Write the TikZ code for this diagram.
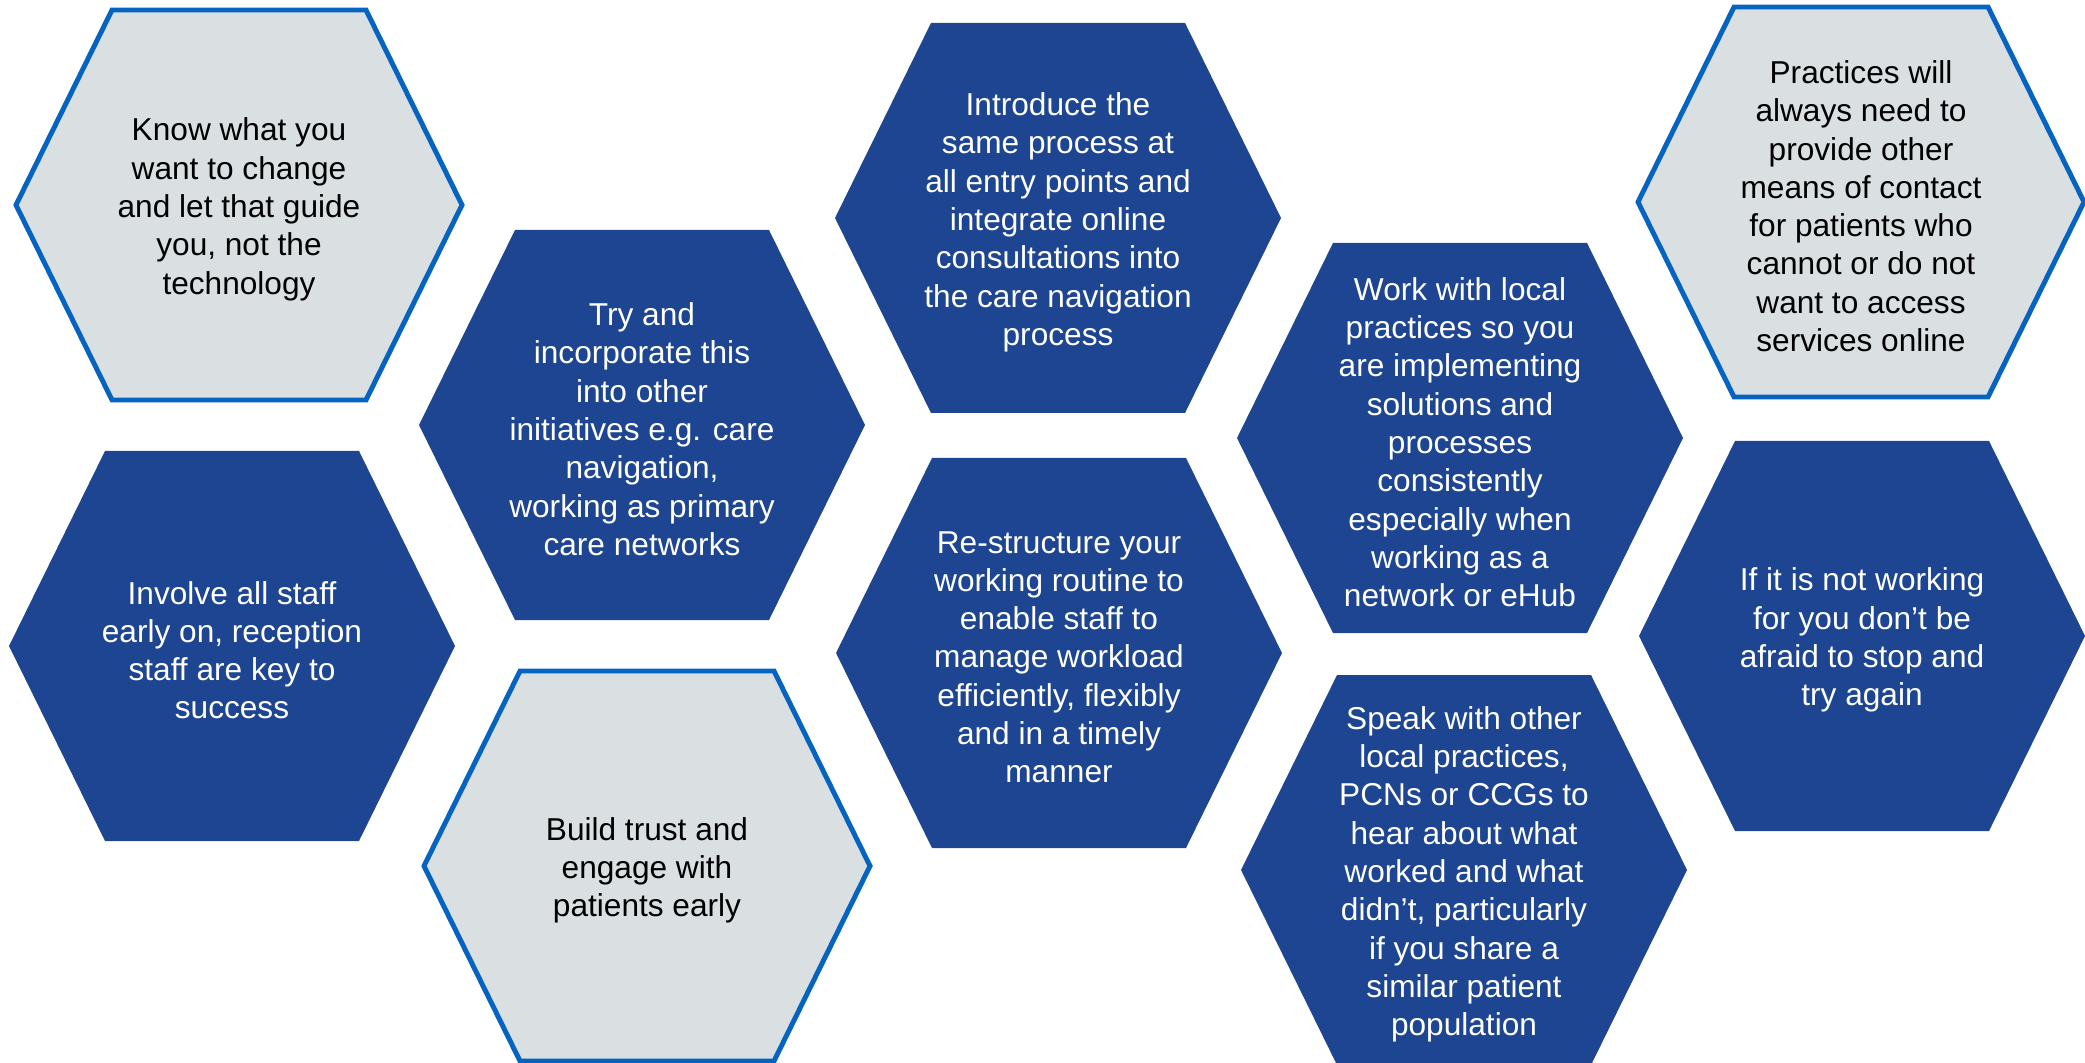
\documentclass[tikz,border=0pt]{standalone}
\usepackage{fontspec}
\setmainfont{Liberation Sans}

\definecolor{cellblue}{RGB}{29,69,145}
\definecolor{cellgrey}{RGB}{218,223,226}
\definecolor{cellline}{RGB}{5,99,193}

\tikzset{
	bluecell/.style={fill=cellblue},
	greycell/.style={fill=cellgrey, draw=cellline, line width=1.4pt},
	celltext/.style={align=center, inner sep=0pt, yshift=-1.2pt, font=\fontsize{9}{10.9}\selectfont},
	bluetext/.style={celltext, text=white},
	greytext/.style={celltext, text=black}
}

% hexagon with its text: name, centre, kind (blue/grey), text
\newcommand{\hexcell}[4]{%
	\path[#3cell] (#2) ++(-2.23,0) -- ++(0.96,1.95) -- ++(2.54,0) -- ++(0.96,-1.95)
		-- ++(-0.96,-1.95) -- ++(-2.54,0) -- cycle;
	\node[#3text] (#1) at (#2) {#4};
}

\begin{document}
\begin{tikzpicture}
	\useasboundingbox (0,0) rectangle (20.85,-10.63);
	
	\hexcell{know}{2.39,-2.05}{grey}{Know what you\\want to change\\and let that guide\\you, not the\\technology}
	\hexcell{involve}{2.32,-6.46}{blue}{Involve all staff\\early on, reception\\staff are key to\\success}
	\hexcell{incorporate}{6.42,-4.25}{blue}{Try and\\incorporate this\\into other\\initiatives e.g. care\\navigation,\\working as primary\\care networks}
	\hexcell{trust}{6.47,-8.66}{grey}{Build trust and\\engage with\\patients early}
	\hexcell{introduce}{10.58,-2.18}{blue}{Introduce the\\same process at\\all entry points and\\integrate online\\consultations into\\the care navigation\\process}
	\hexcell{restructure}{10.59,-6.53}{blue}{Re-structure your\\working routine to\\enable staff to\\manage workload\\efficiently, flexibly\\and in a timely\\manner}
	\hexcell{local}{14.60,-4.38}{blue}{Work with local\\practices so you\\are implementing\\solutions and\\processes\\consistently\\especially when\\working as a\\network or eHub}
	\hexcell{speak}{14.64,-8.70}{blue}{Speak with other\\local practices,\\PCNs or CCGs to\\hear about what\\worked and what\\didn’t, particularly\\if you share a\\similar patient\\population}
	\hexcell{contact}{18.61,-2.02}{grey}{Practices will\\always need to\\provide other\\means of contact\\for patients who\\cannot or do not\\want to access\\services online}
	\hexcell{retry}{18.62,-6.36}{blue}{If it is not working\\for you don’t be\\afraid to stop and\\try again}
\end{tikzpicture}
\end{document}
